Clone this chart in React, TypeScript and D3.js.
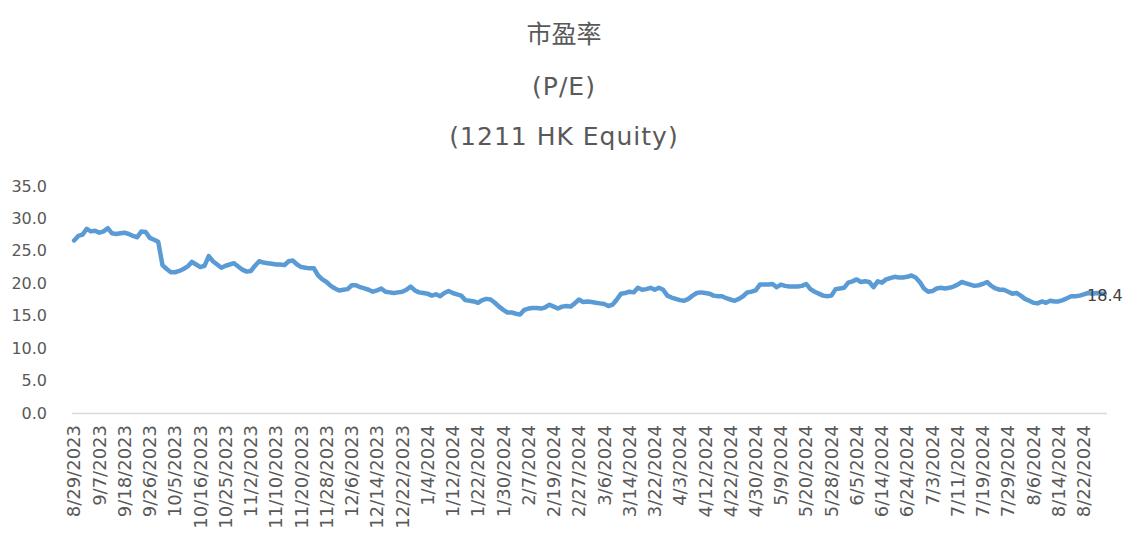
import React from 'react';
import * as d3 from 'd3';

const TITLE_LINES = ['市盈率', '(P/E)', '(1211 HK Equity)'];

const X_LABELS = [
  '8/29/2023', '9/7/2023', '9/18/2023', '9/26/2023', '10/5/2023', '10/16/2023', '10/25/2023',
  '11/2/2023', '11/10/2023', '11/20/2023', '11/28/2023', '12/6/2023', '12/14/2023', '12/22/2023',
  '1/4/2024', '1/12/2024', '1/22/2024', '1/30/2024', '2/7/2024', '2/19/2024', '2/27/2024',
  '3/6/2024', '3/14/2024', '3/22/2024', '4/3/2024', '4/12/2024', '4/22/2024', '4/30/2024',
  '5/9/2024', '5/20/2024', '5/28/2024', '6/5/2024', '6/14/2024', '6/24/2024', '7/3/2024',
  '7/11/2024', '7/19/2024', '7/29/2024', '8/6/2024', '8/14/2024', '8/22/2024',
];
const LABEL_EVERY = 6;

const Y_TICKS = [0, 5, 10, 15, 20, 25, 30, 35];

const PE_VALUES = [
  26.6, 27.3, 27.5, 28.4, 28.0, 28.1, 27.8, 28.0, 28.5, 27.7,
  27.6, 27.7, 27.8, 27.6, 27.3, 27.1, 28.0, 27.9, 27.0, 26.7,
  26.4, 22.8, 22.2, 21.7, 21.7, 21.9, 22.2, 22.6, 23.3, 22.9,
  22.5, 22.7, 24.2, 23.4, 22.9, 22.4, 22.7, 22.9, 23.1, 22.6,
  22.1, 21.8, 21.9, 22.7, 23.4, 23.2, 23.1, 23.0, 22.9, 22.9,
  22.8, 23.4, 23.5, 22.9, 22.5, 22.4, 22.3, 22.3, 21.2, 20.6,
  20.2, 19.6, 19.2, 18.9, 19.0, 19.1, 19.7, 19.7, 19.4, 19.2,
  19.0, 18.7, 18.9, 19.2, 18.7, 18.6, 18.5, 18.6, 18.7, 19.0,
  19.5, 18.9, 18.6, 18.5, 18.4, 18.1, 18.3, 18.0, 18.5, 18.8,
  18.5, 18.3, 18.1, 17.4, 17.3, 17.2, 17.0, 17.4, 17.6, 17.5,
  17.0, 16.4, 15.9, 15.5, 15.5, 15.3, 15.2, 15.9, 16.1, 16.2,
  16.2, 16.1, 16.3, 16.7, 16.4, 16.1, 16.4, 16.5, 16.4, 16.9,
  17.5, 17.1, 17.2, 17.1, 17.0, 16.9, 16.8, 16.5, 16.7, 17.5,
  18.4, 18.5, 18.7, 18.6, 19.3, 19.0, 19.1, 19.3, 19.0, 19.3,
  19.0, 18.1, 17.8, 17.6, 17.4, 17.3, 17.6, 18.1, 18.5, 18.6,
  18.5, 18.4, 18.1, 18.0, 18.0, 17.7, 17.5, 17.3, 17.6, 18.0,
  18.6, 18.7, 18.9, 19.8, 19.8, 19.8, 19.9, 19.4, 19.8, 19.6,
  19.5, 19.5, 19.5, 19.6, 19.9, 19.1, 18.7, 18.4, 18.1, 18.0,
  18.1, 19.1, 19.2, 19.3, 20.1, 20.3, 20.6, 20.2, 20.3, 20.2,
  19.4, 20.3, 20.1, 20.6, 20.8, 21.0, 20.9, 20.9, 21.0, 21.2,
  20.9, 20.2, 19.2, 18.7, 18.8, 19.2, 19.3, 19.2, 19.3, 19.5,
  19.8, 20.2, 20.0, 19.8, 19.6, 19.7, 19.9, 20.2, 19.6, 19.2,
  19.0, 19.0, 18.7, 18.4, 18.5, 18.1, 17.6, 17.3, 17.0, 16.9,
  17.2, 17.0, 17.3, 17.2, 17.2, 17.4, 17.7, 18.0, 18.0, 18.1,
  18.3, 18.5, 18.4, 18.5, 18.4, 18.4,
];

const W = 1128;
const H = 537;
const PLOT = { left: 72, right: 1107, top: 186, bottom: 413 };
const LATIN = '"DejaVu Sans", "Noto Sans CJK SC", sans-serif';
const CJK = '"Noto Sans CJK SC", "DejaVu Sans", sans-serif';
const TEXT_COLOR = '#595959';
const LINE_COLOR = '#5b9bd5';

export default function App() {
  const n = PE_VALUES.length;
  const x = d3.scaleLinear().domain([-0.5, n - 0.5]).range([PLOT.left, PLOT.right]);
  const y = d3.scaleLinear().domain([0, 35]).range([PLOT.bottom, PLOT.top]);
  const line = d3
    .line<number>()
    .x((_, i) => x(i))
    .y((d) => y(d))
    .curve(d3.curveLinear);
  const path = line(PE_VALUES) || '';
  const lastIdx = n - 1;
  const lastVal = PE_VALUES[lastIdx];
  const titleX = 564;
  const titleBaselines = [43, 95, 145];

  return (
    <svg
      width={W}
      height={H}
      style={{ position: 'absolute', left: 0, top: 0, background: '#ffffff' }}
    >
      <rect x={0} y={0} width={W} height={H} fill="#ffffff" />
      {TITLE_LINES.map((t, i) => (
        <text
          key={t}
          x={titleX}
          y={titleBaselines[i]}
          textAnchor="middle"
          fill={TEXT_COLOR}
          fontFamily={i === 0 ? CJK : LATIN}
          fontSize={25}
          letterSpacing={i === 0 ? 0 : 1}
        >
          {t}
        </text>
      ))}

      {Y_TICKS.map((t) => (
        <text
          key={t}
          x={47}
          y={y(t)}
          dy="0.35em"
          textAnchor="end"
          fill={TEXT_COLOR}
          fontFamily={LATIN}
          fontSize={16}
        >
          {t.toFixed(1)}
        </text>
      ))}

      <line
        x1={PLOT.left}
        x2={PLOT.right}
        y1={y(0) + 0.5}
        y2={y(0) + 0.5}
        stroke="#d9d9d9"
        strokeWidth={1.5}
      />

      {X_LABELS.map((lab, k) => {
        const xi = x(k * LABEL_EVERY);
        return (
          <text
            key={lab}
            transform={`translate(${xi},${425}) rotate(-90)`}
            dy="0.35em"
            textAnchor="end"
            fill={TEXT_COLOR}
            fontFamily={LATIN}
            fontSize={18}
          >
            {lab}
          </text>
        );
      })}

      <path
        d={path}
        fill="none"
        stroke={LINE_COLOR}
        strokeWidth={4.5}
        strokeLinejoin="round"
        strokeLinecap="round"
      />

      <text
        x={x(lastIdx)}
        y={y(lastVal)}
        dy="0.45em"
        textAnchor="middle"
        fill="#404040"
        fontFamily={LATIN}
        fontSize={16}
      >
        {lastVal.toFixed(1)}
      </text>
    </svg>
  );
}
